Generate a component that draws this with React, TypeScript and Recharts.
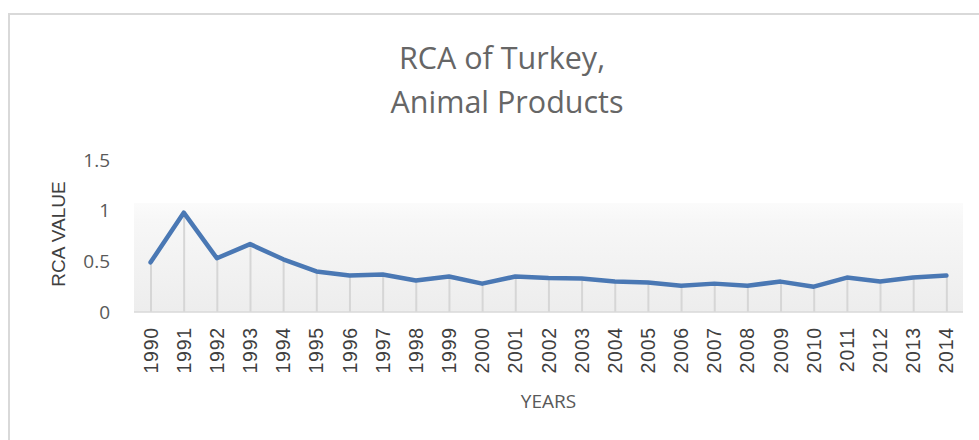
import React from "react";
import { ComposedChart, Line, Bar, XAxis, YAxis, CartesianGrid, Label } from "recharts";

const years: string[] = [
  "1990", "1991", "1992", "1993", "1994", "1995", "1996", "1997", "1998", "1999",
  "2000", "2001", "2002", "2003", "2004", "2005", "2006", "2007", "2008", "2009",
  "2010", "2011", "2012", "2013", "2014",
];
const rcaValues: number[] = [
  0.49, 0.98, 0.53, 0.67, 0.52, 0.4, 0.36, 0.37, 0.31, 0.35,
  0.28, 0.35, 0.335, 0.33, 0.3, 0.29, 0.26, 0.28, 0.26, 0.3,
  0.25, 0.34, 0.3, 0.34, 0.36,
];
const yTicks: number[] = [0, 0.5, 1, 1.5];

const data = years.map((y, i) => ({ year: y, value: rcaValues[i] }));

const XTick = (props: any) => {
  const { x, y, payload } = props;
  return (
    <text
      x={x}
      y={y}
      dy="0.36em"
      transform={`rotate(-90 ${x} ${y})`}
      textAnchor="end"
      fontFamily="Liberation Sans, Arial, sans-serif"
      fontSize={19.5}
      letterSpacing={0.8}
      fill="#404040"
    >
      {payload.value}
    </text>
  );
};

export default function App() {
  return (
    <div style={{ position: "absolute", left: 0, top: 0, width: 979, height: 440, overflow: "hidden", background: "#fff" }}>
      <div
        style={{
          position: "absolute",
          left: 8,
          top: 13,
          width: 1100,
          height: 1100,
          border: "2px solid #d9d9d9",
          boxSizing: "border-box",
        }}
      />
      <svg width={979} height={440} style={{ position: "absolute", left: 0, top: 0 }}>
        <text x={502} y={69} textAnchor="middle" fontFamily="Open Sans, sans-serif" fontSize={30.5} fill="#666666">
          RCA of Turkey,
        </text>
        <text x={507} y={113} textAnchor="middle" fontFamily="Open Sans, sans-serif" fontSize={30.5} fill="#666666">
          Animal Products
        </text>
      </svg>
      <div style={{ position: "absolute", left: 0, top: 0 }}>
        <ComposedChart width={979} height={440} data={data} margin={{ top: 160, right: 16, bottom: 0, left: 54 }}>
          <defs>
            <linearGradient id="plotBg" x1="0" y1="0" x2="0" y2="1">
              <stop offset="0" stopColor="#ffffff" />
              <stop offset="0.28" stopColor="#ffffff" />
              <stop offset="0.285" stopColor="#fbfbfb" />
              <stop offset="0.4" stopColor="#f7f7f7" />
              <stop offset="1" stopColor="#ededed" />
            </linearGradient>
          </defs>
          <CartesianGrid horizontal={false} vertical={false} fill="url(#plotBg)" stroke="none" />
          <XAxis
            dataKey="year"
            height={128}
            axisLine={{ stroke: "#d9d9d9", strokeWidth: 1.5 }}
            tickLine={false}
            tickSize={0}
            tickMargin={15}
            interval={0}
            tick={<XTick />}
          >
            <Label
              content={(p: any) => {
                const vb = p.viewBox || {};
                const cx = (vb.x ?? 134) + (vb.width ?? 829) / 2;
                const by = (vb.y ?? 312) + 96;
                return (
                  <text x={cx} y={by} textAnchor="middle" fontFamily="Open Sans, sans-serif" fontSize={19} fill="#595959">
                    YEARS
                  </text>
                );
              }}
            />
          </XAxis>
          <YAxis
            width={80}
            domain={[0, 1.5]}
            ticks={yTicks}
            axisLine={false}
            tickLine={false}
            tickSize={6}
            tickMargin={18}
            tick={{ fill: "#595959", fontSize: 19, fontFamily: "Open Sans, sans-serif" }}
          >
            <Label
              content={(p: any) => {
                const vb = p.viewBox || {};
                const cy = (vb.y ?? 160) + (vb.height ?? 152) / 2 - 2;
                const bx = 65;
                return (
                  <text
                    x={bx}
                    y={cy}
                    transform={`rotate(-90 ${bx} ${cy})`}
                    textAnchor="middle"
                    fontFamily="Liberation Sans, Arial, sans-serif"
                    fontSize={19}
                    fill="#404040"
                  >
                    RCA VALUE
                  </text>
                );
              }}
            />
          </YAxis>
          <Bar dataKey="value" barSize={2} fill="#d6d6d6" isAnimationActive={false} />
          <Line
            type="linear"
            dataKey="value"
            stroke="#4a78b4"
            strokeWidth={4.5}
            strokeLinejoin="round"
            strokeLinecap="round"
            dot={false}
            activeDot={false}
            isAnimationActive={false}
          />
        </ComposedChart>
      </div>
    </div>
  );
}
